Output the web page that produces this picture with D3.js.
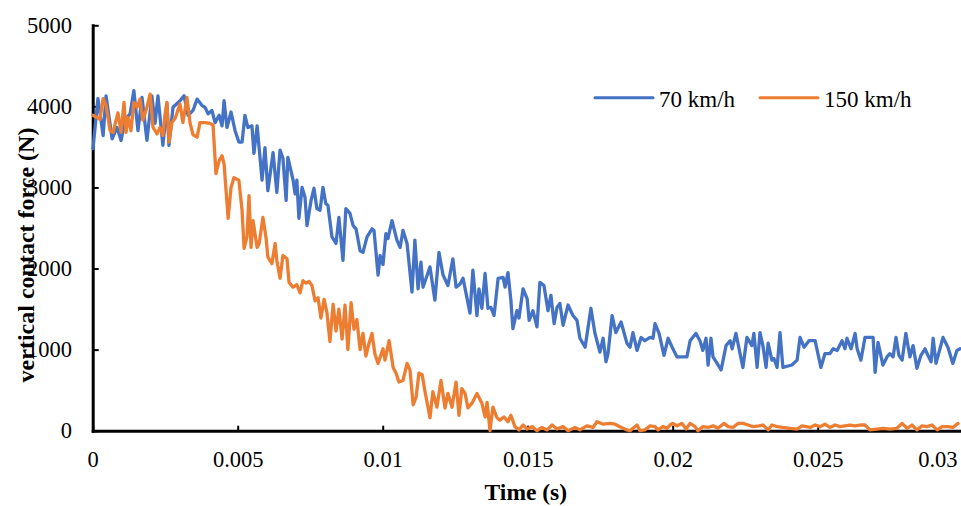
<!DOCTYPE html>
<html>
<head>
<meta charset="utf-8">
<script src="https://cdn.jsdelivr.net/npm/d3@7"></script>
<style>
  html, body { margin: 0; padding: 0; background: #fff; }
  svg { display: block; font-family: "Liberation Serif", "Times New Roman", serif; }
</style>
</head>
<body>
<svg id="chart" width="961" height="506"></svg>
<script>
// Series labels and colours
const seriesNames = ["70 km/h", "150 km/h"];
const seriesColors = ["#4472C4", "#ED7D31"];

// Axis ticks
const xTickValues = [0, 0.005, 0.01, 0.015, 0.02, 0.025, 0.03];
const yTickValues = [0, 1000, 2000, 3000, 4000, 5000];

// Vertical contact force, [time (ms), force (N)]
const force70 = [
  [0.01,3480],[0.18,4096],[0.36,3640],[0.46,4130],[0.67,3600],[0.84,3740],[0.98,3580],[1.11,3830],
  [1.29,3910],[1.42,4195],[1.56,3700],[1.70,4110],[1.87,3580],[2.04,4130],[2.15,3790],[2.25,4130],
  [2.42,3520],[2.56,4030],[2.63,3520],[2.77,3990],[3.01,4070],[3.15,4130],[3.29,3890],[3.46,3950],
  [3.60,4090],[3.77,4010],[3.87,3990],[3.98,3910],[4.11,3950],[4.22,3800],[4.36,3890],[4.46,3760],
  [4.53,4070],[4.63,3740],[4.77,3930],[4.91,3700],[5.04,3560],[5.15,3560],[5.25,3890],[5.35,3740],
  [5.49,3760],[5.56,3420],[5.67,3760],[5.84,3090],[5.94,3490],[6.04,2960],[6.22,3430],[6.35,2940],
  [6.46,3460],[6.56,3360],[6.67,2840],[6.73,3370],[6.91,3090],[6.98,2920],[7.04,3090],[7.11,2620],
  [7.22,3000],[7.32,2880],[7.39,2530],[7.53,2840],[7.63,2990],[7.73,2740],[7.84,2720],[7.94,3000],
  [8.04,2800],[8.11,2780],[8.25,2390],[8.39,2310],[8.49,2630],[8.63,2100],[8.73,2740],[8.87,2680],
  [8.98,2530],[9.08,2490],[9.22,2220],[9.32,2200],[9.46,2390],[9.63,2490],[9.70,2470],[9.84,1920],
  [9.91,2160],[10.01,2050],[10.11,2430],[10.18,2370],[10.32,2590],[10.49,2350],[10.60,2260],[10.70,2470],
  [10.84,2310],[11.01,1710],[11.11,2350],[11.22,1750],[11.32,2080],[11.39,1770],[11.63,2020],[11.80,1610],
  [11.94,2200],[12.08,1920],[12.25,1790],[12.42,2120],[12.53,1770],[12.67,1810],[12.77,1880],[13.01,1450],
  [13.11,1980],[13.25,1420],[13.32,1750],[13.42,1510],[13.53,1940],[13.63,1510],[13.73,1520],[13.84,1420],
  [13.98,1880],[14.15,1890],[14.22,1770],[14.32,1950],[14.42,1610],[14.49,1260],[14.63,1480],[14.70,1390],
  [14.84,1750],[14.98,1630],[15.05,1360],[15.18,1480],[15.32,1280],[15.42,1830],[15.56,1790],[15.70,1480],
  [15.80,1670],[15.91,1320],[16.01,1520],[16.11,1570],[16.22,1300],[16.39,1550],[16.56,1420],[16.70,1360],
  [16.80,1140],[16.98,1030],[17.18,1510],[17.32,1200],[17.49,970],[17.60,1140],[17.70,850],[17.77,950],
  [17.91,1420],[18.04,1210],[18.22,1340],[18.42,1080],[18.53,1030],[18.63,1210],[18.77,990],[18.91,1150],
  [19.04,1110],[19.22,1150],[19.32,1140],[19.39,1320],[19.53,1200],[19.70,930],[19.84,1140],[19.98,1030],
  [20.15,910],[20.32,910],[20.49,910],[20.60,1110],[20.80,1200],[20.94,1110],[21.04,990],[21.15,1140],
  [21.22,810],[21.32,1140],[21.39,910],[21.67,750],[21.84,1050],[21.98,1110],[22.05,1010],[22.18,1200],
  [22.42,780],[22.56,1150],[22.73,1050],[22.80,1200],[22.91,780],[23.01,1210],[23.11,1050],[23.22,780],
  [23.29,1080],[23.42,870],[23.49,890],[23.60,780],[23.70,1210],[23.80,780],[24.11,810],[24.29,870],
  [24.39,1150],[24.53,1030],[24.70,1110],[24.91,1110],[25.11,780],[25.25,950],[25.42,950],[25.53,1010],
  [25.67,990],[25.84,1110],[25.94,1010],[26.01,1140],[26.15,1010],[26.29,1200],[26.36,1010],[26.49,870],
  [26.63,1150],[26.77,1150],[26.91,1150],[26.98,720],[27.08,1090],[27.25,810],[27.39,910],[27.49,950],
  [27.60,910],[27.70,1150],[27.80,930],[27.91,870],[28.04,1200],[28.18,910],[28.29,1050],[28.42,770],
  [28.56,930],[28.70,1010],[28.80,930],[28.91,850],[28.98,1140],[29.08,830],[29.32,1150],[29.49,1030],
  [29.66,830],[29.80,990],[29.91,1010]
];

const force150 = [
  [0.01,3890],[0.25,3840],[0.36,4096],[0.46,4010],[0.60,3700],[0.70,3680],[0.87,3920],[0.98,3680],
  [1.08,4050],[1.15,3680],[1.22,3860],[1.32,3700],[1.42,4050],[1.53,3990],[1.63,4090],[1.73,3830],
  [1.87,3990],[1.98,4150],[2.08,3740],[2.22,3660],[2.32,3740],[2.42,3640],[2.49,3890],[2.56,4050],
  [2.63,3560],[2.73,3800],[2.84,3850],[3.01,4030],[3.11,3800],[3.25,4110],[3.36,3790],[3.46,3650],
  [3.60,3620],[3.70,3800],[3.87,3800],[4.04,3790],[4.15,3770],[4.25,3170],[4.36,3330],[4.46,3390],
  [4.53,3290],[4.67,2620],[4.77,3000],[4.87,3120],[5.04,3090],[5.15,2720],[5.22,2250],[5.32,2390],
  [5.39,2900],[5.46,2260],[5.53,2590],[5.67,2260],[5.74,2310],[5.87,2630],[5.98,2370],[6.04,2140],
  [6.18,2060],[6.29,2310],[6.35,2100],[6.46,1880],[6.56,2160],[6.70,2120],[6.77,1830],[6.91,1770],
  [7.04,1800],[7.15,1700],[7.25,1850],[7.36,1820],[7.46,1840],[7.56,1790],[7.67,1600],[7.77,1640],
  [7.87,1390],[7.98,1620],[8.08,1450],[8.18,1100],[8.29,1560],[8.39,1230],[8.49,1500],[8.60,1130],
  [8.70,1550],[8.80,1000],[8.91,1580],[9.01,1250],[9.11,1370],[9.22,1000],[9.32,1200],[9.42,920],
  [9.53,1080],[9.63,1200],[9.73,950],[9.84,830],[10.01,1010],[10.08,870],[10.22,1110],[10.36,780],
  [10.46,710],[10.56,600],[10.70,620],[10.84,830],[10.94,750],[11.05,320],[11.15,410],[11.25,710],
  [11.36,690],[11.46,480],[11.63,160],[11.73,480],[11.87,290],[12.01,620],[12.15,280],[12.25,460],
  [12.39,290],[12.53,600],[12.63,190],[12.73,520],[12.84,460],[12.94,280],[13.08,340],[13.25,460],
  [13.42,340],[13.53,170],[13.60,350],[13.70,0],[13.80,290],[13.94,160],[14.04,130],[14.18,170],
  [14.32,110],[14.42,190],[14.56,50],[14.70,10],[14.84,70],[14.98,20],[15.15,50],[15.32,0],
  [15.49,40],[15.67,10],[15.84,70],[16.01,20],[16.22,50],[16.39,0],[16.63,40],[16.80,10],
  [17.04,60],[17.25,40],[17.39,110],[17.60,80],[17.84,90],[18.01,80],[18.18,50],[18.42,10],
  [18.53,0],[18.63,30],[18.77,70],[18.87,0],[19.04,10],[19.22,60],[19.39,50],[19.49,10],
  [19.66,50],[19.80,30],[19.94,80],[20.01,90],[20.15,60],[20.32,90],[20.46,20],[20.60,90],
  [20.77,50],[20.87,0],[21.04,50],[21.22,40],[21.39,60],[21.56,30],[21.77,90],[21.91,50],
  [22.08,40],[22.25,90],[22.42,90],[22.60,70],[22.77,50],[22.98,60],[23.11,70],[23.29,10],
  [23.42,70],[23.60,50],[23.80,40],[24.04,30],[24.29,20],[24.46,60],[24.60,50],[24.74,40],
  [24.91,70],[25.08,50],[25.25,80],[25.42,40],[25.60,70],[25.77,50],[25.94,60],[26.11,70],
  [26.29,60],[26.46,70],[26.63,70],[26.80,10],[27.04,20],[27.25,30],[27.49,20],[27.73,30],
  [27.91,90],[28.08,30],[28.25,70],[28.42,10],[28.60,60],[28.77,50],[28.94,70],[29.12,10],
  [29.29,50],[29.49,50],[29.66,40],[29.84,90]
];

const W = 961, H = 506;
const plot = { left: 92.7, right: 962.7, top: 25.3, bottom: 430.7 };

const svg = d3.select("#chart");

const x = d3.scaleLinear().domain([0, 0.03]).range([plot.left, plot.right]);
const y = d3.scaleLinear().domain([0, 5000]).range([plot.bottom, plot.top]);

// X axis, ticks pointing into the plot
const xAxis = svg.append("g")
  .attr("transform", `translate(0,${plot.bottom})`)
  .call(d3.axisBottom(x)
    .tickValues(xTickValues)
    .tickFormat(d => String(d))
    .tickSizeInner(-5)
    .tickSizeOuter(0)
    .tickPadding(20.7));

// Y axis, ticks pointing into the plot
const yAxis = svg.append("g")
  .attr("transform", `translate(${plot.left},0)`)
  .call(d3.axisLeft(y)
    .tickValues(yTickValues)
    .tickFormat(d3.format("d"))
    .tickSizeInner(-6)
    .tickSizeOuter(0)
    .tickPadding(20.7));

[xAxis, yAxis].forEach(g => {
  g.select(".domain").attr("stroke", "#000").attr("stroke-width", 3).attr("stroke-linecap", "square");
  g.selectAll(".tick line").attr("stroke", "#000").attr("stroke-width", 2);
  g.selectAll(".tick text")
    .attr("fill", "#000")
    .style("font-family", "'Liberation Serif', 'Times New Roman', serif")
    .style("font-size", "22.5px");
});

// Keep the right-most tick label inside the frame
xAxis.selectAll(".tick").each(function (d) {
  const t = d3.select(this).select("text");
  const w = t.node().getComputedTextLength();
  if (x(d) + w / 2 > W - 4) {
    t.attr("text-anchor", "end").attr("x", (W - 4) - x(d));
  }
});

// Series lines
const line = d3.line()
  .x(d => x(d[0] / 1000))
  .y(d => y(d[1]))
  .curve(d3.curveLinear);

const allSeries = [force70, force150];
svg.append("g")
  .selectAll("path")
  .data(allSeries)
  .join("path")
  .attr("d", line)
  .attr("fill", "none")
  .attr("stroke", (d, i) => seriesColors[i])
  .attr("stroke-width", 3.3)
  .attr("stroke-linejoin", "round")
  .attr("stroke-linecap", "round");

// Axis titles
svg.append("text")
  .attr("x", (plot.left + W) / 2 - 1)
  .attr("y", 500)
  .attr("text-anchor", "middle")
  .style("font-weight", "bold")
  .style("font-size", "23.5px")
  .text("Time (s)");

svg.append("text")
  .attr("transform", "translate(34,255) rotate(-90)")
  .attr("text-anchor", "middle")
  .style("font-weight", "bold")
  .style("font-size", "24px")
  .text("vertical contact force (N)");

// Legend
const legend = svg.append("g").attr("transform", "translate(595,0)");
let lx = 0;
seriesNames.forEach((name, i) => {
  const item = legend.append("g").attr("transform", `translate(${lx},0)`);
  item.append("line")
    .attr("x1", 0).attr("x2", 58)
    .attr("y1", 97.7).attr("y2", 97.7)
    .attr("stroke", seriesColors[i])
    .attr("stroke-width", 3)
    .attr("stroke-linecap", "round");
  const txt = item.append("text")
    .attr("x", 64).attr("y", 106.5)
    .style("font-size", "23px")
    .text(name);
  lx += 64 + txt.node().getComputedTextLength() + 25;
});
</script>
</body>
</html>
